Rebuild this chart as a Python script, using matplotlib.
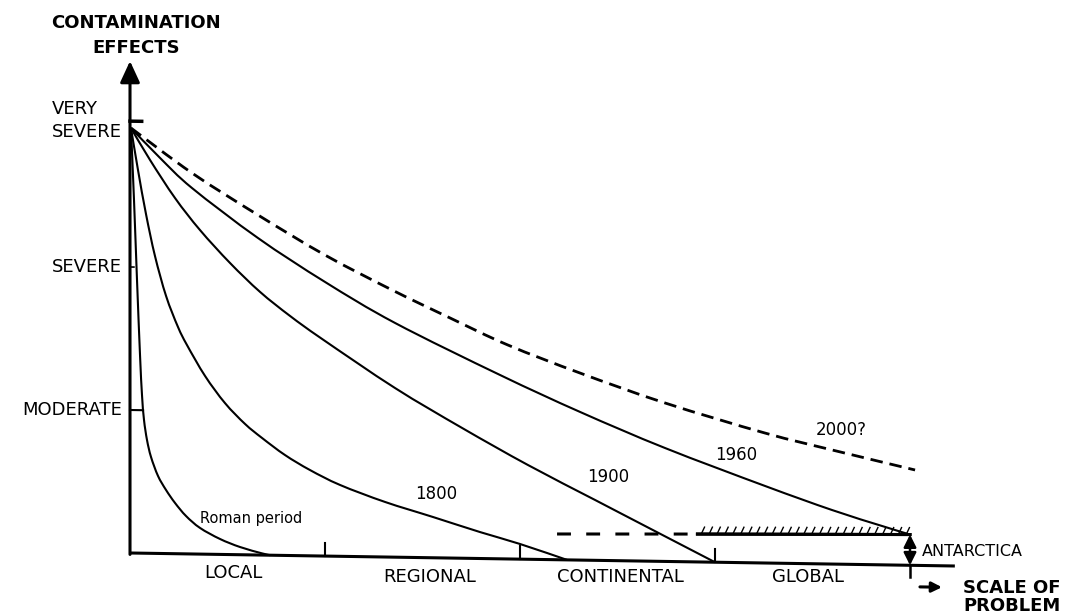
import numpy as np
import matplotlib.pyplot as plt
import matplotlib.patheffects as pe
from matplotlib.path import Path
from matplotlib.patches import PathPatch
from matplotlib.transforms import Affine2D

plt.rcParams['font.family'] = 'DejaVu Sans'
plt.rcParams['lines.scale_dashes'] = False

# ---- data ----
# x: scale of problem (0 local .. 4 end of global), y: effect level (1 moderate, 2 severe, 3 very severe)
roman_x = [0.005, 0.0205, 0.0359, 0.0513, 0.0615, 0.0718, 0.0872, 0.1077, 0.1436, 0.1846,
           0.2308, 0.2872, 0.359, 0.4615, 0.5641, 0.677, 0.72]
roman_y = [2.972, 2.469, 1.910, 1.386, 1.106, 0.932, 0.792, 0.674, 0.542, 0.445,
           0.355, 0.265, 0.183, 0.108, 0.054, 0.012, 0.0]

c1800_x = [0.005, 0.041, 0.082, 0.128, 0.185, 0.246, 0.292, 0.385, 0.487, 0.590, 0.677, 0.795,
           0.923, 1.077, 1.308, 1.554, 1.795, 2.0, 2.241]
c1800_y = [2.972, 2.679, 2.372, 2.080, 1.801, 1.586, 1.461, 1.246, 1.059, 0.915, 0.819, 0.702,
           0.600, 0.499, 0.385, 0.285, 0.185, 0.106, 0.0]

c1900_x = [0.005, 0.103, 0.231, 0.359, 0.513, 0.667, 0.821, 0.985, 1.359, 1.703, 2.041, 2.385, 2.641, 3.0]
c1900_y = [2.972, 2.750, 2.487, 2.266, 2.039, 1.840, 1.675, 1.518, 1.183, 0.911, 0.659, 0.422, 0.246, 0.0]

c1960_x = [0.005, 0.154, 0.318, 0.656, 1.0, 1.359, 1.897, 2.308, 2.744, 3.256, 3.6, 3.856, 4.0]
c1960_y = [2.972, 2.766, 2.559, 2.217, 1.917, 1.638, 1.286, 1.036, 0.793, 0.539, 0.378, 0.272, 0.215]

c2000_x = [0.005, 0.318, 0.656, 1.0, 1.344, 1.641, 1.938, 2.308, 2.744, 3.256, 3.6, 4.026]
c2000_y = [2.972, 2.664, 2.378, 2.105, 1.868, 1.679, 1.496, 1.308, 1.108, 0.909, 0.798, 0.667]

antarctica_dash_x = [2.19, 2.91]
antarctica_dash_y = [0.18, 0.195]
antarctica_hatch_x = [2.91, 4.0]
antarctica_hatch_y = [0.195, 0.215]

levels = [3.024, 2.0, 1.0]
level_labels = ['VERY\nSEVERE', 'SEVERE', 'MODERATE']

scale_bounds = [1.0, 2.0, 3.0]
scale_centers = [0.528, 1.538, 2.513, 3.477]
scale_label_y = [-0.129, -0.135, -0.114, -0.093]
scale_labels = ['LOCAL', 'REGIONAL', 'CONTINENTAL', 'GLOBAL']

curve_labels = ['Roman period', '1800', '1900', '1960', '2000?']
curve_label_x = [0.621, 1.569, 2.451, 3.108, 3.646]
curve_label_y = [0.258, 0.446, 0.584, 0.752, 0.938]


def smooth_path(xs, ys):
    # Catmull-Rom through the read points, drawn as cubic Bezier segments
    p = np.column_stack([xs, ys])
    ext = np.vstack([p[0], p, p[-1]])
    verts = [p[0]]
    codes = [Path.MOVETO]
    for i in range(len(p) - 1):
        p0, p1, p2, p3 = ext[i], ext[i + 1], ext[i + 2], ext[i + 3]
        verts += [p1 + (p2 - p0) / 6, p2 - (p3 - p1) / 6, p2]
        codes += [Path.CURVE4] * 3
    return Path(verts, codes)


# ---- figure ----
fig = plt.figure(figsize=(10.69, 6.14), dpi=100)
ax = fig.add_axes([0, 0, 1, 1])
ax.set_xlim(-0.6667, 4.8154)
ax.set_ylim(-0.4266, 3.8671)
ax.axis('off')

# the scanned original is slightly skewed: baseline drops ~13 px from left to right
tilt = Affine2D().translate(-130, -61).skew(0, -0.01576).translate(130, 61)
tr = ax.transData + tilt

# axes drawn by hand, like the original sketch
ax.plot([0, 4.23], [0, 0], color='black', lw=2.2, solid_capstyle='butt', transform=tr)
ax.annotate('', xy=(0, 3.44), xytext=(0, -0.01), xycoords=tr, textcoords=tr,
            arrowprops=dict(arrowstyle='-|>,head_length=0.65,head_width=0.3',
                            mutation_scale=20, lw=2.2, color='black', shrinkA=0, shrinkB=0))
for b in scale_bounds:
    ax.plot([b, b], [0, 0.09], color='black', lw=1.5, transform=tr)
ax.plot([0, 0.06], [3.02, 3.02], color='black', lw=2.5, transform=tr)
ax.plot([0, 0.067], [1.0, 1.0], color='black', lw=1.5, transform=tr)
ax.plot([0, 0.02], [2.0, 2.0], color='black', lw=1.2, transform=tr)

# curves
for xs, ys in [(roman_x, roman_y), (c1800_x, c1800_y), (c1900_x, c1900_y), (c1960_x, c1960_y)]:
    ax.add_patch(PathPatch(smooth_path(xs, ys), fill=False, edgecolor='black', lw=1.5,
                           joinstyle='round', transform=tr))
ax.add_patch(PathPatch(smooth_path(c2000_x, c2000_y), fill=False, edgecolor='black', lw=2.0,
                       linestyle=(0, (9, 5)), transform=tr))

# Antarctica level
ax.plot(antarctica_dash_x, antarctica_dash_y, color='black', lw=2.2, dashes=(10, 11), transform=tr)
ax.plot(antarctica_hatch_x, antarctica_hatch_y, color='black', lw=2.2, transform=tr,
        path_effects=[pe.withTickedStroke(spacing=5.5, angle=65, length=1.0, linewidth=1.0), pe.Normal()])
ax.annotate('', xy=(4.0, antarctica_hatch_y[-1]), xytext=(4.0, 0), xycoords=tr, textcoords=tr,
            arrowprops=dict(arrowstyle='<|-|>,head_length=0.5,head_width=0.25',
                            mutation_scale=15, lw=1.8, color='black', shrinkA=0, shrinkB=0))
ax.plot([4.0, 4.0], [0, -0.08], color='black', lw=1.8, transform=tr)

# text
ax.text(0.03, 3.62, 'CONTAMINATION\nEFFECTS', ha='center', va='center', fontsize=13,
        fontweight='bold', linespacing=1.55, transform=tr)
for lv, lab in zip(levels, level_labels):
    ax.text(-0.041, lv, lab, ha='right', va='center', fontsize=13, multialignment='left',
            linespacing=1.3, transform=tr)
for cx, cy, lab in zip(scale_centers, scale_label_y, scale_labels):
    ax.text(cx, cy, lab, ha='center', va='center', fontsize=13, transform=tr)
for lab, lx, ly in zip(curve_labels, curve_label_x, curve_label_y):
    ax.text(lx, ly, lab, ha='center', va='center', fontsize=10.5 if lab.startswith('R') else 12,
            transform=tr)

ax.text(4.062, 0.1, 'ANTARCTICA', ha='left', va='center', fontsize=11.5, transform=tr)
ax.annotate('', xy=(4.164, -0.15), xytext=(4.051, -0.15), xycoords=tr, textcoords=tr,
            arrowprops=dict(arrowstyle='-|>,head_length=0.5,head_width=0.25',
                            mutation_scale=12, lw=2.2, color='black', shrinkA=0, shrinkB=0))
ax.text(4.272, -0.15, 'SCALE OF', ha='left', va='center', fontsize=13, fontweight='bold', transform=tr)
ax.text(4.272, -0.276, 'PROBLEM', ha='left', va='center', fontsize=13, fontweight='bold', transform=tr)

fig.savefig('out.png', dpi=100)
